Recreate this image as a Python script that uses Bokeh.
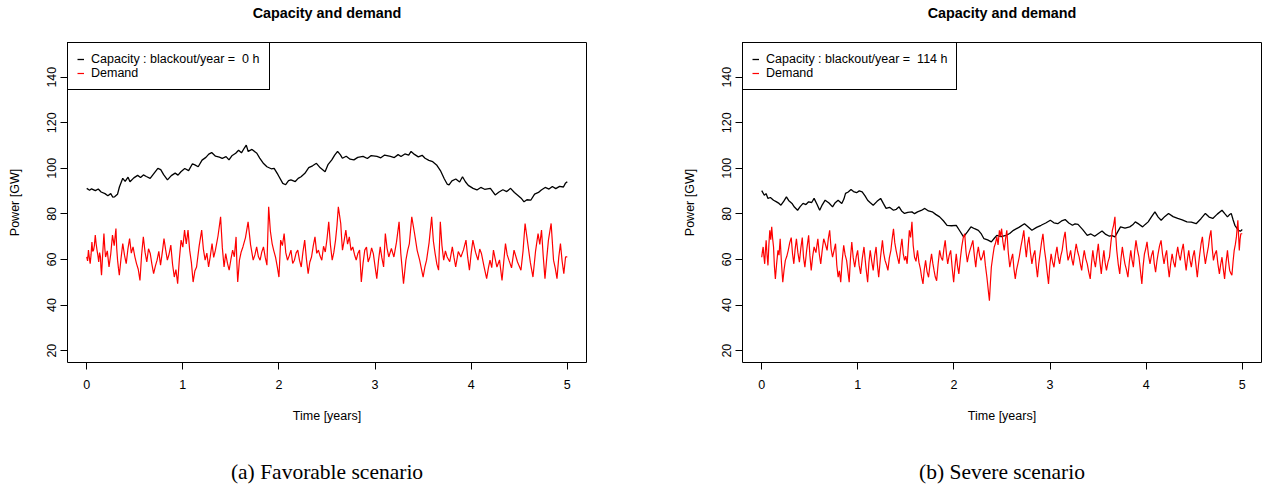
from bokeh.plotting import figure
from bokeh.models import Range1d, FixedTicker, Legend, LegendItem, Title
from bokeh.layouts import row
from bokeh.embed import file_html
from bokeh.resources import INLINE

# ---------------- data ----------------
x_ticks = [0, 1, 2, 3, 4, 5]
y_ticks = [20, 40, 60, 80, 100, 120, 140]

title_text = "Capacity and demand"
x_label = "Time [years]"
y_label = "Power [GW]"

# (a) Favorable scenario
fav_cap_t = [0.00, 0.03, 0.05, 0.09, 0.12, 0.15, 0.19, 0.22, 0.25, 0.27, 0.29, 0.32, 0.34, 0.375, 0.40,
             0.43, 0.45, 0.49, 0.53, 0.56, 0.59, 0.62, 0.66, 0.70, 0.74, 0.77, 0.80, 0.84, 0.88, 0.92,
             0.95, 0.98, 1.02, 1.06, 1.10, 1.125, 1.16, 1.20, 1.24, 1.27, 1.30, 1.34, 1.38, 1.41, 1.45,
             1.48, 1.51, 1.55, 1.58, 1.61, 1.64, 1.66, 1.68, 1.72, 1.77, 1.80, 1.84, 1.875, 1.92, 1.95,
             1.99, 2.04, 2.07, 2.10, 2.125, 2.17, 2.20, 2.23, 2.27, 2.31, 2.35, 2.39, 2.43, 2.48, 2.51,
             2.55, 2.58, 2.61, 2.64, 2.66, 2.70, 2.74, 2.78, 2.82, 2.875, 2.92, 2.96, 3.02, 3.06, 3.10,
             3.16, 3.20, 3.24, 3.27, 3.31, 3.35, 3.375, 3.41, 3.45, 3.49, 3.52, 3.56, 3.60, 3.64, 3.68,
             3.72, 3.75, 3.77, 3.80, 3.84, 3.88, 3.91, 3.94, 3.97, 4.02, 4.06, 4.10, 4.14, 4.20, 4.25,
             4.29, 4.33, 4.37, 4.41, 4.45, 4.49, 4.52, 4.55, 4.58, 4.62, 4.66, 4.70, 4.73, 4.77, 4.81,
             4.845, 4.88, 4.92, 4.96, 4.98, 5.00]
fav_cap_v = [91.2, 90.4, 91.0, 90.2, 90.9, 89.6, 88.9, 88.0, 88.9, 87.4, 87.5, 88.6, 91.8, 95.6, 94.3,
             96.1, 94.1, 95.8, 96.9, 96.0, 97.1, 96.4, 95.6, 97.8, 100.0, 99.4, 97.2, 94.9, 96.8, 97.9,
             97.0, 98.5, 99.9, 99.0, 102.0, 101.5, 100.7, 103.6, 104.8, 106.2, 106.9, 105.3, 104.9, 104.4, 105.1,
             103.7, 105.5, 106.6, 107.9, 106.8, 108.9, 110.2, 107.4, 108.3, 106.6, 104.5, 102.1, 100.7, 99.8, 100.0,
             97.2, 93.4, 92.8, 94.6, 94.9, 94.2, 95.6, 96.3, 97.8, 100.3, 101.1, 102.2, 100.2, 98.5, 101.6,
             103.7, 105.8, 107.4, 105.9, 104.4, 105.3, 104.0, 103.7, 104.8, 105.2, 104.3, 105.6, 105.2, 104.6, 105.8,
             105.2, 104.7, 106.0, 105.2, 106.3, 105.8, 107.4, 106.1, 105.0, 105.7, 104.4, 103.5, 102.9, 101.5, 99.0,
             95.4, 93.1, 92.7, 94.5, 95.3, 94.0, 96.3, 94.1, 92.5, 91.2, 90.5, 91.6, 90.8, 91.2, 88.3,
             89.6, 90.6, 89.8, 91.2, 89.4, 88.0, 86.9, 85.3, 86.2, 86.0, 88.7, 89.4, 90.5, 91.6, 90.9,
             92.0, 91.1, 92.1, 91.8, 93.4, 94.1]

fav_dem_t = [0.000, 0.009, 0.018, 0.027, 0.036, 0.045, 0.054, 0.062, 0.071, 0.080, 0.089, 0.098, 0.107, 0.116,
             0.125, 0.134, 0.143, 0.148, 0.154, 0.166, 0.179, 0.188, 0.196, 0.214, 0.232, 0.250, 0.268, 0.286,
             0.304, 0.312, 0.321, 0.330, 0.339, 0.357, 0.375, 0.393, 0.411, 0.428, 0.446, 0.464, 0.482, 0.500,
             0.518, 0.536, 0.554, 0.571, 0.589, 0.607, 0.625, 0.643, 0.661, 0.678, 0.696, 0.714, 0.732, 0.750,
             0.768, 0.786, 0.804, 0.821, 0.839, 0.857, 0.875, 0.893, 0.911, 0.928, 0.946, 0.964, 0.982, 1.000,
             1.018, 1.036, 1.054, 1.071, 1.089, 1.107, 1.125, 1.143, 1.170, 1.196, 1.214, 1.232, 1.250, 1.268,
             1.286, 1.304, 1.321, 1.339, 1.366, 1.393, 1.411, 1.429, 1.446, 1.464, 1.482, 1.500, 1.518, 1.536,
             1.554, 1.562, 1.571, 1.589, 1.607, 1.625, 1.652, 1.679, 1.705, 1.732, 1.750, 1.768, 1.786, 1.804,
             1.821, 1.839, 1.857, 1.875, 1.893, 1.911, 1.929, 1.946, 1.964, 1.982, 2.000, 2.018, 2.036, 2.054,
             2.071, 2.089, 2.107, 2.125, 2.143, 2.161, 2.179, 2.196, 2.214, 2.232, 2.250, 2.268, 2.286, 2.304,
             2.321, 2.339, 2.357, 2.375, 2.393, 2.411, 2.428, 2.446, 2.464, 2.482, 2.500, 2.518, 2.536, 2.554,
             2.571, 2.589, 2.604, 2.618, 2.643, 2.652, 2.661, 2.678, 2.696, 2.714, 2.732, 2.750, 2.768, 2.786,
             2.804, 2.821, 2.839, 2.857, 2.875, 2.893, 2.911, 2.928, 2.946, 2.964, 2.982, 3.000, 3.018, 3.036,
             3.054, 3.071, 3.089, 3.107, 3.125, 3.143, 3.170, 3.196, 3.223, 3.250, 3.268, 3.296, 3.321, 3.339,
             3.357, 3.382, 3.411, 3.438, 3.464, 3.482, 3.500, 3.518, 3.536, 3.562, 3.589, 3.607, 3.625, 3.643,
             3.661, 3.679, 3.696, 3.714, 3.732, 3.750, 3.777, 3.804, 3.821, 3.839, 3.866, 3.893, 3.920, 3.946,
             3.964, 3.982, 4.000, 4.018, 4.045, 4.071, 4.089, 4.107, 4.134, 4.161, 4.179, 4.196, 4.214, 4.232,
             4.250, 4.268, 4.295, 4.321, 4.339, 4.357, 4.375, 4.393, 4.420, 4.446, 4.482, 4.518, 4.540, 4.561,
             4.589, 4.616, 4.643, 4.670, 4.696, 4.714, 4.732, 4.750, 4.768, 4.786, 4.804, 4.832, 4.857, 4.875,
             4.893, 4.911, 4.929, 4.946, 4.964, 4.982, 5.000]
fav_dem_v = [61.1, 59.4, 64.1, 60.8, 58.2, 62.0, 67.7, 63.5, 64.1, 66.2, 70.7, 66.9, 64.1, 61.8,
             58.9, 63.0, 61.1, 56.4, 53.1, 62.3, 71.4, 65.0, 61.1, 63.8, 56.7, 62.4, 70.7, 66.1,
             73.6, 64.9, 59.7, 56.2, 53.1, 60.5, 67.0, 61.9, 58.2, 64.4, 69.2, 62.8, 65.5, 61.4,
             58.2, 55.7, 50.8, 62.1, 69.9, 63.2, 58.9, 64.7, 62.6, 58.0, 53.8, 57.1, 59.7, 63.6,
             57.5, 63.0, 69.2, 64.3, 59.7, 62.4, 66.3, 57.9, 52.3, 55.6, 49.4, 60.2, 68.5, 65.4,
             72.9, 66.8, 72.9, 64.1, 58.6, 50.1, 54.9, 56.7, 66.0, 72.9, 64.5, 59.7, 62.8, 56.7,
             61.5, 67.0, 60.9, 64.1, 70.3, 78.7, 65.2, 56.7, 62.6, 58.4, 55.3, 60.0, 64.1, 61.2,
             69.9, 58.7, 50.1, 59.7, 63.3, 65.5, 69.6, 76.5, 66.4, 59.7, 62.0, 65.5, 61.3, 59.7,
             63.2, 65.5, 61.0, 57.5, 83.1, 72.4, 67.0, 63.9, 61.1, 57.0, 52.3, 68.5, 66.1, 71.4,
             63.0, 59.7, 61.7, 64.1, 58.3, 59.7, 62.9, 64.1, 59.6, 56.7, 63.4, 68.5, 60.1, 53.8,
             58.8, 61.1, 66.0, 69.9, 62.7, 64.1, 61.5, 59.7, 65.8, 63.3, 69.0, 76.5, 66.3, 59.7,
             63.1, 68.5, 75.0, 83.1, 75.8, 69.4, 64.1, 68.2, 72.9, 66.7, 69.9, 64.0, 65.5, 62.2,
             59.7, 62.6, 64.1, 50.1, 58.3, 64.1, 65.5, 58.9, 61.1, 65.1, 62.6, 57.0, 51.6, 59.6,
             65.5, 60.7, 56.7, 71.4, 64.9, 61.1, 64.8, 61.1, 67.6, 76.5, 62.6, 49.4, 59.7, 63.9,
             67.0, 78.7, 71.4, 64.0, 59.7, 56.0, 52.3, 56.6, 59.7, 67.3, 78.7, 68.0, 62.6, 58.0,
             55.3, 76.5, 66.1, 59.7, 63.8, 61.1, 59.0, 65.5, 61.0, 56.7, 63.5, 61.1, 64.2, 68.5,
             61.0, 55.3, 62.7, 68.5, 63.2, 59.7, 64.6, 62.6, 56.9, 51.6, 56.2, 59.7, 56.4, 64.1,
             60.3, 56.7, 59.8, 50.8, 59.1, 67.0, 62.0, 59.7, 56.3, 64.1, 58.9, 55.3, 63.8, 75.8,
             67.0, 58.6, 52.3, 63.7, 71.4, 66.6, 72.9, 61.3, 51.6, 60.4, 68.5, 75.8, 59.7, 56.2,
             51.6, 60.8, 67.0, 59.4, 53.8, 61.1, 61.1]

# (b) Severe scenario
sev_cap_t = [0.000, 0.027, 0.045, 0.065, 0.09, 0.123, 0.15, 0.18, 0.20, 0.23, 0.257, 0.28, 0.315, 0.34, 0.373,
             0.40, 0.43, 0.46, 0.488, 0.52, 0.545, 0.575, 0.603, 0.63, 0.66, 0.70, 0.737, 0.765, 0.795, 0.833,
             0.855, 0.872, 0.90, 0.929, 0.955, 0.987, 1.015, 1.045, 1.075, 1.102, 1.13, 1.16, 1.20, 1.237, 1.265,
             1.294, 1.33, 1.371, 1.40, 1.429, 1.455, 1.486, 1.52, 1.563, 1.59, 1.621, 1.66, 1.697, 1.735, 1.774,
             1.81, 1.851, 1.89, 1.928, 1.975, 2.024, 2.06, 2.10, 2.14, 2.177, 2.215, 2.254, 2.285, 2.312, 2.35,
             2.389, 2.42, 2.446, 2.49, 2.542, 2.58, 2.619, 2.68, 2.734, 2.77, 2.811, 2.86, 2.907, 2.955, 3.003,
             3.04, 3.08, 3.12, 3.157, 3.195, 3.233, 3.26, 3.291, 3.34, 3.387, 3.425, 3.464, 3.50, 3.541, 3.58,
             3.618, 3.645, 3.675, 3.705, 3.733, 3.78, 3.829, 3.86, 3.887, 3.925, 3.963, 3.99, 4.021, 4.055, 4.091,
             4.125, 4.156, 4.195, 4.233, 4.28, 4.328, 4.375, 4.424, 4.47, 4.52, 4.57, 4.616, 4.655, 4.693, 4.74,
             4.789, 4.82, 4.846, 4.865, 4.885, 4.905, 4.923, 4.945, 4.962, 4.98, 5.0]
sev_cap_v = [90.2, 88.2, 88.9, 86.8, 87.2, 86.0, 85.4, 84.6, 83.8, 85.6, 87.5, 85.9, 84.6, 83.0, 81.6,
             83.2, 84.6, 84.1, 85.3, 85.0, 86.8, 84.2, 81.6, 84.0, 86.0, 84.8, 83.1, 84.9, 86.0, 84.6,
             86.5, 89.0, 89.6, 90.7, 89.8, 89.3, 90.1, 89.7, 87.9, 86.0, 84.9, 83.8, 85.5, 86.8, 84.6,
             82.4, 82.9, 81.6, 82.0, 83.1, 81.3, 80.2, 80.7, 80.9, 80.1, 80.9, 81.5, 82.4, 81.3, 80.9,
             79.8, 78.7, 77.0, 75.0, 74.8, 75.0, 72.6, 69.9, 72.1, 74.3, 73.5, 72.8, 71.2, 69.1, 68.6,
             67.7, 69.3, 70.6, 70.0, 70.6, 71.4, 72.8, 74.2, 75.7, 74.4, 72.8, 74.1, 75.0, 76.0, 77.2,
             76.1, 75.7, 76.9, 77.5, 76.0, 75.0, 75.6, 75.4, 73.1, 70.6, 71.2, 70.2, 71.3, 72.5, 71.0,
             70.2, 70.5, 69.9, 72.2, 74.3, 73.8, 74.3, 75.2, 76.5, 75.5, 74.3, 75.4, 76.5, 78.7, 80.9,
             78.6, 77.2, 78.9, 80.2, 78.8, 78.0, 77.4, 76.5, 76.4, 75.7, 77.9, 80.2, 78.6, 78.0, 79.9,
             81.6, 80.0, 78.7, 79.6, 80.2, 77.3, 75.0, 73.6, 72.8, 72.4, 73.1]

sev_dem_t = [0.000, 0.008, 0.015, 0.023, 0.031, 0.038, 0.046, 0.055, 0.065, 0.074, 0.084, 0.094, 0.104, 0.113,
             0.123, 0.132, 0.142, 0.155, 0.169, 0.180, 0.192, 0.205, 0.219, 0.232, 0.246, 0.261, 0.276, 0.291,
             0.307, 0.320, 0.334, 0.347, 0.361, 0.376, 0.392, 0.407, 0.422, 0.435, 0.449, 0.468, 0.488, 0.501,
             0.515, 0.530, 0.545, 0.564, 0.584, 0.599, 0.614, 0.629, 0.645, 0.662, 0.680, 0.693, 0.707, 0.722,
             0.737, 0.752, 0.768, 0.781, 0.795, 0.808, 0.822, 0.837, 0.853, 0.868, 0.883, 0.896, 0.910, 0.923,
             0.937, 0.952, 0.968, 0.983, 0.998, 1.013, 1.029, 1.046, 1.064, 1.083, 1.102, 1.115, 1.129, 1.144,
             1.160, 1.175, 1.190, 1.203, 1.217, 1.236, 1.256, 1.269, 1.283, 1.298, 1.313, 1.328, 1.344, 1.357,
             1.371, 1.384, 1.398, 1.413, 1.429, 1.444, 1.459, 1.472, 1.486, 1.499, 1.513, 1.524, 1.536, 1.549,
             1.563, 1.576, 1.590, 1.605, 1.621, 1.636, 1.651, 1.664, 1.678, 1.691, 1.705, 1.720, 1.736, 1.751,
             1.767, 1.780, 1.793, 1.806, 1.820, 1.835, 1.851, 1.866, 1.882, 1.895, 1.909, 1.922, 1.935, 1.950,
             1.966, 1.981, 1.997, 2.010, 2.024, 2.037, 2.051, 2.066, 2.081, 2.096, 2.112, 2.125, 2.139, 2.152,
             2.166, 2.181, 2.197, 2.212, 2.227, 2.240, 2.254, 2.267, 2.281, 2.296, 2.312, 2.327, 2.343, 2.356,
             2.369, 2.379, 2.389, 2.404, 2.419, 2.432, 2.446, 2.459, 2.473, 2.484, 2.496, 2.509, 2.523, 2.536,
             2.550, 2.565, 2.581, 2.596, 2.611, 2.624, 2.638, 2.651, 2.665, 2.680, 2.696, 2.711, 2.727, 2.740,
             2.753, 2.766, 2.780, 2.795, 2.811, 2.826, 2.842, 2.855, 2.869, 2.882, 2.896, 2.911, 2.926, 2.941,
             2.957, 2.970, 2.984, 2.997, 3.011, 3.026, 3.041, 3.056, 3.072, 3.085, 3.099, 3.112, 3.126, 3.141,
             3.157, 3.172, 3.187, 3.200, 3.214, 3.227, 3.241, 3.256, 3.272, 3.287, 3.303, 3.316, 3.329, 3.342,
             3.356, 3.371, 3.387, 3.402, 3.418, 3.431, 3.445, 3.458, 3.472, 3.487, 3.502, 3.517, 3.533, 3.546,
             3.560, 3.573, 3.587, 3.602, 3.618, 3.633, 3.648, 3.661, 3.675, 3.684, 3.694, 3.709, 3.725, 3.738,
             3.752, 3.765, 3.779, 3.794, 3.810, 3.825, 3.840, 3.853, 3.867, 3.880, 3.894, 3.909, 3.925, 3.940,
             3.955, 3.968, 3.982, 3.995, 4.009, 4.024, 4.040, 4.055, 4.071, 4.084, 4.098, 4.111, 4.124, 4.139,
             4.155, 4.170, 4.186, 4.199, 4.213, 4.226, 4.240, 4.255, 4.270, 4.285, 4.301, 4.314, 4.328, 4.341,
             4.355, 4.370, 4.386, 4.401, 4.416, 4.429, 4.443, 4.456, 4.470, 4.485, 4.501, 4.516, 4.532, 4.545,
             4.558, 4.571, 4.585, 4.600, 4.616, 4.631, 4.647, 4.660, 4.674, 4.687, 4.700, 4.715, 4.731, 4.746,
             4.762, 4.775, 4.789, 4.802, 4.816, 4.831, 4.846, 4.857, 4.869, 4.880, 4.892, 4.904, 4.916, 4.928,
             4.939, 4.954, 4.962, 4.969, 4.977, 4.985, 5.000]
sev_dem_v = [61.0, 63.8, 65.5, 61.2, 58.1, 63.6, 68.4, 62.2, 57.4, 66.0, 72.8, 68.7, 74.3, 69.4,
             65.5, 57.0, 51.5, 58.2, 64.0, 61.9, 69.1, 58.8, 50.0, 55.3, 59.6, 61.4, 64.0, 67.3,
             69.6, 62.7, 58.1, 64.3, 69.1, 63.1, 58.8, 65.0, 69.6, 60.9, 56.6, 64.2, 70.6, 61.8,
             55.2, 61.3, 65.5, 63.0, 69.1, 62.4, 58.1, 63.9, 69.1, 66.8, 64.0, 69.2, 72.8, 64.6,
             61.0, 63.9, 66.9, 57.6, 52.2, 55.0, 50.0, 59.4, 66.2, 62.0, 59.6, 55.1, 50.0, 60.3,
             67.7, 60.8, 56.6, 61.1, 64.0, 57.5, 53.7, 60.4, 65.5, 57.1, 50.0, 58.5, 64.0, 59.3,
             55.2, 61.6, 65.5, 57.9, 52.2, 61.0, 68.4, 62.8, 59.6, 57.7, 55.2, 60.7, 64.0, 69.0,
             73.5, 67.5, 64.0, 60.9, 58.1, 64.5, 69.1, 62.6, 59.6, 61.5, 58.1, 65.2, 72.8, 69.7,
             76.5, 66.2, 61.0, 59.2, 64.0, 58.7, 55.9, 52.1, 49.3, 55.5, 59.6, 54.7, 52.2, 57.9,
             62.5, 58.4, 55.2, 52.3, 50.7, 57.8, 64.0, 61.0, 59.6, 64.6, 68.4, 62.4, 58.1, 61.7,
             64.0, 56.6, 50.0, 56.7, 62.5, 57.2, 53.7, 60.1, 65.5, 69.4, 71.3, 63.6, 58.8, 61.8,
             64.0, 66.1, 68.4, 61.8, 56.6, 62.3, 65.5, 61.7, 59.6, 61.2, 64.0, 57.5, 52.2, 47.0,
             41.9, 49.6, 56.6, 61.3, 65.5, 67.1, 69.9, 66.4, 72.8, 70.1, 73.5, 67.9, 64.0, 68.7,
             72.8, 63.2, 56.6, 59.9, 62.5, 56.0, 51.5, 55.4, 58.1, 61.2, 65.5, 68.8, 72.8, 66.2,
             61.0, 66.6, 69.9, 63.5, 58.1, 61.7, 64.0, 57.4, 52.2, 58.0, 62.5, 67.4, 71.3, 64.6,
             59.6, 54.3, 49.3, 57.1, 62.5, 58.9, 56.6, 61.8, 65.5, 61.0, 58.1, 61.6, 64.0, 68.8,
             72.1, 64.7, 59.6, 61.3, 64.0, 60.0, 57.4, 62.3, 66.9, 63.5, 61.0, 57.8, 55.2, 60.2,
             64.0, 60.4, 58.1, 54.6, 51.5, 58.3, 64.0, 59.6, 56.6, 62.0, 66.9, 59.7, 53.7, 59.2,
             64.0, 58.6, 55.2, 58.7, 61.0, 67.4, 72.8, 75.0, 78.7, 70.2, 64.0, 58.1, 53.7, 60.3,
             65.5, 61.6, 58.1, 55.7, 52.2, 59.0, 64.0, 59.8, 56.6, 63.3, 68.4, 64.2, 61.0, 55.1,
             49.3, 57.0, 62.5, 64.6, 67.7, 61.9, 58.1, 61.7, 64.0, 58.3, 54.4, 59.0, 62.5, 66.0,
             68.4, 62.4, 58.1, 61.6, 64.0, 57.4, 52.2, 58.0, 62.5, 58.9, 56.6, 61.7, 65.5, 62.0,
             59.6, 63.8, 66.9, 60.5, 55.2, 60.1, 64.0, 59.7, 56.6, 61.1, 64.0, 58.3, 52.2, 57.8,
             62.5, 66.8, 69.9, 63.3, 58.1, 61.9, 65.5, 69.9, 72.8, 65.0, 59.6, 62.3, 64.0, 58.2,
             53.7, 57.8, 61.0, 56.0, 51.5, 58.7, 64.0, 59.1, 55.2, 54.0, 53.1, 59.0, 64.0, 66.6,
             69.9, 77.2, 70.3, 64.0, 68.8, 71.3, 71.3]

fav_legend = "Capacity : blackout/year = \u00a00 h"
sev_legend = "Capacity : blackout/year = \u00a0114 h"
fav_caption = "(a) Favorable scenario"
sev_caption = "(b) Severe scenario"

SANS = "Liberation Sans"
SERIF = "Liberation Serif"


def make_panel(cap_t, cap_v, dem_t, dem_v, legend_text, caption, width, b_left, b_right):
    p = figure(width=width, height=489,
               x_range=Range1d(-0.2, 5.2), y_range=Range1d(14.8, 155.2),
               output_backend="svg", toolbar_location=None,
               min_border_left=b_left, min_border_right=b_right,
               min_border_top=42, min_border_bottom=127)
    # title block: the empty second line keeps the title near the top edge
    p.title.text = title_text + "\n\u00a0"
    p.title.align = "center"
    p.title.vertical_align = "top"
    p.title.text_font = SANS
    p.title.text_font_style = "bold"
    p.title.text_font_size = "14.4px"
    p.title.text_color = "black"
    p.title.standoff = 7

    p.background_fill_color = "white"
    p.border_fill_color = "white"
    p.outline_line_color = "black"
    p.outline_line_width = 1
    p.outline_line_alpha = 1
    p.xgrid.visible = False
    p.ygrid.visible = False

    p.xaxis.ticker = FixedTicker(ticks=x_ticks)
    p.yaxis.ticker = FixedTicker(ticks=y_ticks)
    for ax in (p.xaxis[0], p.yaxis[0]):
        ax.axis_line_color = None
        ax.major_tick_line_color = "black"
        ax.major_tick_in = 0
        ax.major_tick_out = 7
        ax.minor_tick_line_color = None
        ax.major_label_text_font = SANS
        ax.major_label_text_font_size = "12.5px"
        ax.major_label_text_color = "black"
        ax.axis_label_text_font = SANS
        ax.axis_label_text_font_size = "12.5px"
        ax.axis_label_text_font_style = "normal"
        ax.axis_label_text_color = "black"
    p.xaxis.axis_label = x_label
    p.yaxis.axis_label = y_label
    p.xaxis.major_label_standoff = 10
    p.xaxis.axis_label_standoff = 17
    p.yaxis.major_label_orientation = "vertical"
    p.yaxis.major_label_standoff = 4
    p.yaxis.axis_label_standoff = 23

    r_cap = p.line(cap_t, cap_v, line_color="black", line_width=1.3)
    r_dem = p.line(dem_t, dem_v, line_color="#ff0000", line_width=1.2)

    legend = Legend(items=[LegendItem(label=legend_text, renderers=[r_cap]),
                           LegendItem(label="Demand", renderers=[r_dem])],
                    location="top_left", margin=0, padding=9, spacing=0,
                    glyph_width=7, glyph_height=14, label_height=14, label_standoff=7,
                    border_line_color="black", border_line_width=1, border_line_alpha=1,
                    background_fill_color="white", background_fill_alpha=1,
                    label_text_font=SANS, label_text_font_size="12.5px",
                    label_text_color="black")
    p.add_layout(legend)

    # caption block: the empty first line pushes the caption lower
    cap_title = Title(text="\u00a0\n" + caption, align="center", vertical_align="bottom",
                      text_font=SERIF, text_font_size="21.5px", text_font_style="normal",
                      text_line_height=1.3, text_color="black", standoff=4)
    p.add_layout(cap_title, "below")
    return p


p1 = make_panel(fav_cap_t, fav_cap_v, fav_dem_t, fav_dem_v, fav_legend, fav_caption, 664, 67, 78)
p2 = make_panel(sev_cap_t, sev_cap_v, sev_dem_t, sev_dem_v, sev_legend, sev_caption, 598, 78, 1)

layout = row(p1, p2)
open("out.html", "w").write(file_html(layout, INLINE))
